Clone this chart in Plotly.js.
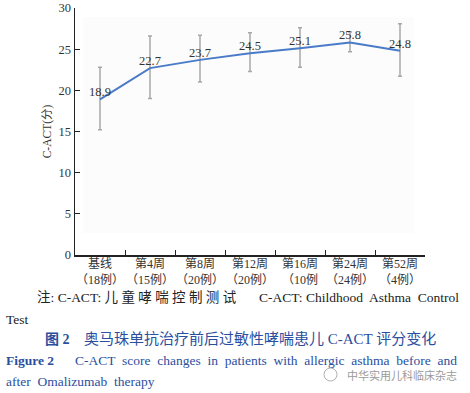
<!DOCTYPE html>
<html>
<head>
<meta charset="utf-8">
<script src="https://cdn.plot.ly/plotly-3.0.1.min.js"></script>
<style>html,body{margin:0;padding:0;background:#fff;}#chart{width:470px;height:393px;}</style>
</head>
<body>
<div id="chart"></div>
<script>
const categories = ["基线<br>（18例）", "第4周<br>（15例）", "第8周<br>（20例）", "第12周<br>（20例）", "第16周<br>（10例", "第24周<br>（24例）", "第52周<br>（4例）"];
const scores = [18.9, 22.7, 23.7, 24.5, 25.1, 25.8, 24.8];
const errPlus = [3.9, 3.9, 3.0, 2.5, 2.5, 1.3, 3.3];
const errMinus = [3.7, 3.7, 2.7, 2.2, 2.3, 1.1, 3.1];
const yTicks = [0, 5, 10, 15, 20, 25, 30];

const L = 75, R = 425, T = 8, B = 255;
const px = x => (x - L) / (R - L);
const py = y => (B - y) / (B - T);

const serif = "Liberation Serif, DejaVu Serif, serif";
const cjk = "Liberation Serif, Noto Sans CJK SC, serif";

const trace = {
  x: categories,
  y: scores,
  type: "scatter",
  mode: "lines+text",
  text: scores.map(v => v.toFixed(1)),
  textposition: "top center",
  textfont: {family: serif, size: 12.5, color: "#333"},
  line: {color: "#4a7bc8", width: 2},
  error_y: {type: "data", symmetric: false, array: errPlus, arrayminus: errMinus,
            color: "#a8a8a8", thickness: 1.5, width: 2},
  hoverinfo: "none",
  cliponaxis: false
};

const blue = "#2b4f9e";
const ann = [
  {x: px(35), y: py(297), text: "注: C-ACT: 儿 童 哮 喘 控 制 测 试", font: {family: cjk, size: 13.5, color: "#222"}},
  {x: px(257), y: py(297), text: "C-ACT: Childhood  Asthma  Control", font: {family: serif, size: 13.5, color: "#222"}},
  {x: px(4), y: py(319), text: "Test", font: {family: serif, size: 13.5, color: "#222"}},
  {x: px(43), y: py(339), text: "<b>图 2</b>", font: {family: cjk, size: 14, color: blue}},
  {x: px(82), y: py(339), text: "奥马珠单抗治疗前后过敏性哮喘患儿 C-ACT 评分变化", font: {family: cjk, size: 15, color: blue}},
  {x: px(4), y: py(360), text: "<b>Figure 2</b>", font: {family: serif, size: 13.5, color: blue}},
  {x: px(73), y: py(360), text: "C-ACT  score  changes  in  patients  with  allergic  asthma  before  and", font: {family: serif, size: 13.5, color: blue}},
  {x: px(4), y: py(382), text: "after  Omalizumab  therapy", font: {family: serif, size: 13.5, color: blue}},
  {x: px(345), y: py(375), text: "中华实用儿科临床杂志", font: {family: "Noto Sans CJK SC", size: 11, color: "#9a9a9a"}}
].map(a => Object.assign({xref: "paper", yref: "paper", xanchor: "left", yanchor: "middle", showarrow: false}, a));

const layout = {
  width: 470, height: 393,
  margin: {l: L, r: 470 - R, t: T, b: 393 - B},
  paper_bgcolor: "#fff",
  plot_bgcolor: "#fff",
  showlegend: false,
  xaxis: {
    range: [-0.5, 6.5], showline: true, linecolor: "#222", linewidth: 1.5,
    ticks: "inside", ticklen: 5, tickcolor: "#222", showgrid: false, zeroline: false,
    tickmode: "array", tickvals: [0.5, 1.5, 2.5, 3.5, 4.5, 5.5], ticktext: ["", "", "", "", "", ""],
    fixedrange: true
  },
  xaxis2: {
    overlaying: "x", matches: "x", range: [-0.5, 6.5], showline: false, ticks: "",
    showgrid: false, zeroline: false, side: "bottom", tickangle: 0,
    tickfont: {family: cjk, size: 12, color: "#333"}
  },
  yaxis: {
    range: [0, 30], showline: true, linecolor: "#222", linewidth: 1.5,
    ticks: "inside", ticklen: 5, tickcolor: "#222", showgrid: false, zeroline: false,
    tickvals: yTicks, tickfont: {family: serif, size: 12.5, color: "#333"},
    title: {text: "C-ACT(分)", font: {family: cjk, size: 11.5, color: "#333"}, standoff: 4}
  },
  shapes: [{type: "rect", xref: "paper", yref: "paper", x0: px(83), x1: px(414), y0: py(233), y1: py(17),
            fillcolor: "#fcfcfc", line: {width: 0}, layer: "below"},
           {type: "circle", xref: "paper", yref: "paper", x0: px(324), x1: px(337), y0: py(381), y1: py(368),
            line: {color: "#b0b0b0", width: 1}}],
  annotations: ann
};

const labelTrace = {x: categories, y: scores.map(() => null), xaxis: "x2", yaxis: "y", type: "scatter", mode: "markers", hoverinfo: "none"};
Plotly.newPlot("chart", [trace, labelTrace], layout, {staticPlot: true, displayModeBar: false});
</script>
</body>
</html>
